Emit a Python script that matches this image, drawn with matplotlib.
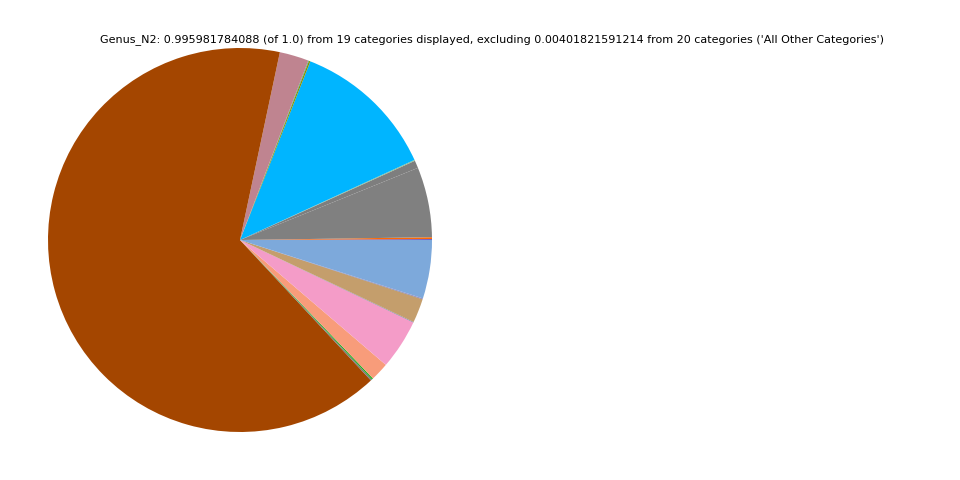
import matplotlib
matplotlib.use("Agg")
import matplotlib.pyplot as plt

# Category shares (counter-clockwise from 3 o'clock)
categories = ["c01", "c02", "c03", "c04", "c05", "c06", "c07", "c08", "c09", "c10",
              "c11", "c12", "c13", "c14", "c15", "c16", "c17", "c18", "c19"]
values = [0.0008, 0.0015, 0.0590, 0.0064, 0.0008, 0.1218, 0.0012, 0.0006, 0.0246, 0.6527,
          0.0012, 0.0012, 0.0155, 0.0420, 0.0005, 0.0202, 0.0005, 0.0003, 0.0492]
colors = ["#6a5acd", "#ff6a00", "#808080", "#7e7e7e", "#8fbc8f", "#00b5ff", "#8b8b00", "#3cb371",
          "#bf8490", "#a44600", "#7a7a7a", "#22b022", "#f89c7a", "#f49cc8", "#6a7fa0",
          "#c49e6c", "#6a7fa0", "#9b59b6", "#7da9db"]

title = ("Genus_N2: 0.995981784088 (of 1.0) from 19 categories displayed, excluding "
         "0.00401821591214 from 20 categories ('All Other Categories')")

fig = plt.figure(figsize=(9.6, 4.8), dpi=100)
ax = fig.add_axes([48 / 960, 48 / 480, 384 / 960, 384 / 480])
ax.pie(values, colors=colors, startangle=0, counterclock=True, radius=1.0,
       wedgeprops=dict(linewidth=0))
ax.set_xlim(-1, 1)
ax.set_ylim(-1, 1)
ax.set_aspect("equal")
ax.axis("off")
fig.text(492 / 960, 1 - 40 / 480, title, ha="center", va="center", fontsize=8)
fig.savefig("out.png", dpi=100)
